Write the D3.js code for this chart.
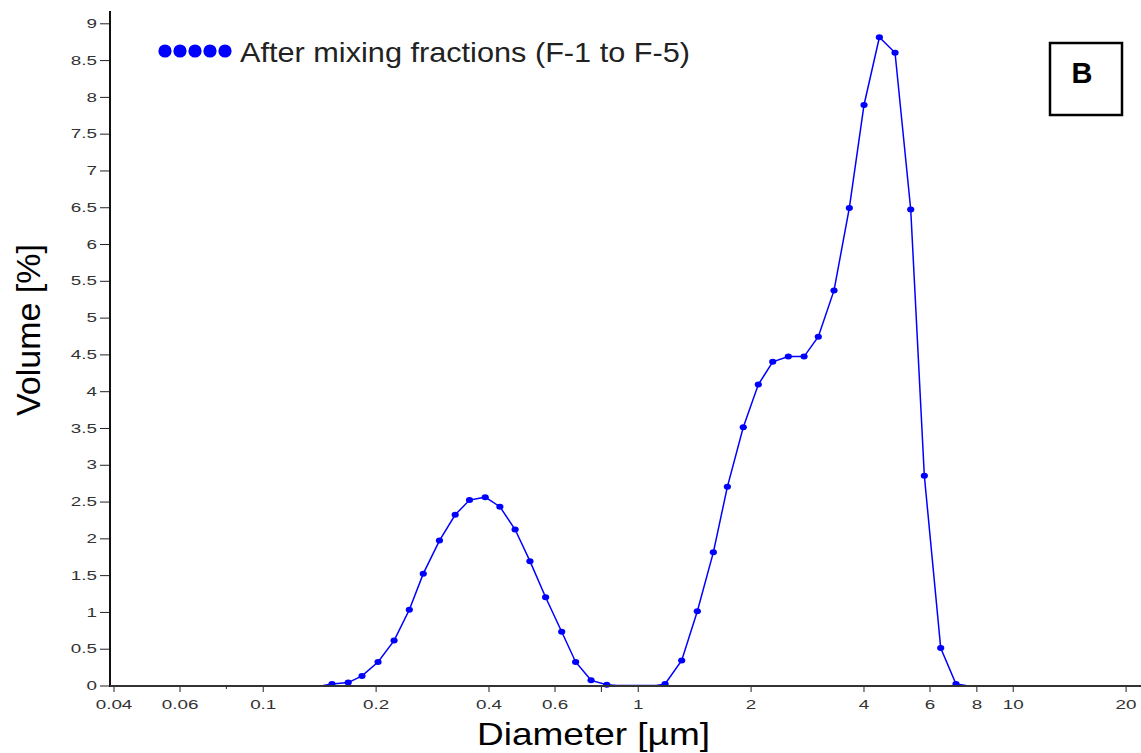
<!DOCTYPE html>
<html>
<head>
<meta charset="utf-8">
<script src="https://cdn.jsdelivr.net/npm/d3@7"></script>
<style>
  body { margin: 0; background: #fff; }
  svg { display: block; font-family: "Liberation Sans", Arial, sans-serif; }
</style>
</head>
<body>
<svg id="chart" width="1141" height="753"></svg>
<script>
"use strict";
// particle size distribution
const diameters = [0.145, 0.153, 0.169, 0.184, 0.203, 0.224, 0.246, 0.268, 0.296, 0.326, 0.356, 0.392, 0.429, 0.471, 0.516, 0.568, 0.627, 0.683, 0.751, 0.827, 0.88,
  1.12, 1.183, 1.31, 1.442, 1.591, 1.734, 1.912, 2.097, 2.291, 2.521, 2.777, 3.031, 3.338, 3.667, 4.013, 4.41, 4.855, 5.346, 5.812, 6.427, 7.059, 7.5];
const volumes = [0, 0.02, 0.04, 0.13, 0.32, 0.61, 1.03, 1.52, 1.97, 2.32, 2.52, 2.56, 2.43, 2.12, 1.69, 1.2, 0.73, 0.32, 0.07, 0.01, 0,
  0, 0.02, 0.34, 1.01, 1.81, 2.70, 3.51, 4.09, 4.40, 4.47, 4.47, 4.74, 5.37, 6.49, 7.89, 8.81, 8.60, 6.47, 2.85, 0.51, 0.02, 0];
const xTicks = [0.04, 0.06, 0.1, 0.2, 0.4, 0.6, 1, 2, 4, 6, 8, 10, 20];
const xMinorTicks = [0.08, 0.8];
const yTicks = d3.range(0, 9.01, 0.5);
const seriesName = "After mixing fractions (F-1 to F-5)";
const panelLabel = "B";

const svg = d3.select("#chart");
const x = d3.scaleLog().domain([0.04, 20]).range([113.5, 1125.6]);
const y = d3.scaleLinear().domain([0, 9]).range([685.5, 23.3]);
const axisX = 110, axisY = 686;
const blue = "#0000ff";

// y axis
const gy = svg.append("g").attr("transform", `translate(${axisX},0)`)
  .call(d3.axisLeft(y).tickValues(yTicks).tickSize(10).tickFormat(d => d));
gy.select(".domain").remove();
gy.selectAll(".tick line").attr("stroke", "#222");
gy.selectAll(".tick text").attr("x", -9).attr("transform", "scale(1.45,1)")
  .attr("font-size", 13).attr("fill", "#333").attr("font-family", "Liberation Sans, Arial");
svg.append("line").attr("x1", axisX).attr("x2", axisX).attr("y1", 11).attr("y2", axisY + 1)
  .attr("stroke", "#111").attr("stroke-width", 2);

// x axis
const gx = svg.append("g").attr("transform", `translate(0,${axisY})`)
  .call(d3.axisBottom(x).tickValues(xTicks).tickSize(6).tickPadding(8).tickFormat(d => d));
gx.select(".domain").remove();
gx.selectAll(".tick line").attr("stroke", "#222");
gx.selectAll(".tick text").attr("transform", "scale(1.45,1)")
  .attr("font-size", 13).attr("fill", "#333").attr("font-family", "Liberation Sans, Arial");
gx.selectAll(".minor").data(xMinorTicks).join("line").attr("class", "minor")
  .attr("x1", d => x(d)).attr("x2", d => x(d)).attr("y1", 0).attr("y2", d => d < 0.1 ? 3 : 6)
  .attr("stroke", "#222");

// series
const pts = diameters.map((d, i) => ({d, v: volumes[i]}));
const line = d3.line().x(p => x(p.d)).y(p => y(p.v));
svg.append("path").datum(pts).attr("d", line)
  .attr("fill", "none").attr("stroke", blue).attr("stroke-width", 1.5);
svg.append("g").selectAll("ellipse").data(pts.filter(p => p.v > 0)).join("ellipse")
  .attr("cx", p => x(p.d)).attr("cy", p => y(p.v)).attr("rx", 3.6).attr("ry", 3)
  .attr("fill", blue);

// x axis line over the zero stretches of the curve
svg.append("line").attr("x1", axisX).attr("x2", 1141).attr("y1", axisY).attr("y2", axisY)
  .attr("stroke", "#333").attr("stroke-width", 2);

// axis titles
svg.append("text").attr("x", 477).attr("y", 745).attr("font-size", 32)
  .attr("textLength", 233).attr("lengthAdjust", "spacingAndGlyphs").text("Diameter [µm]");
svg.append("text").attr("transform", "translate(40,330) rotate(-90)").attr("text-anchor", "middle")
  .attr("font-size", 34).text("Volume [%]");

// legend
svg.append("g").selectAll("circle").data(d3.range(5)).join("circle")
  .attr("cx", i => 165 + i * 15).attr("cy", 51).attr("r", 6.6).attr("fill", blue);
svg.append("text").attr("x", 240).attr("y", 62).attr("font-size", 28).attr("fill", "#222")
  .attr("textLength", 450).attr("lengthAdjust", "spacingAndGlyphs").text(seriesName);

// panel label
svg.append("rect").attr("x", 1050).attr("y", 43).attr("width", 72).attr("height", 72)
  .attr("fill", "none").attr("stroke", "#000").attr("stroke-width", 2.5);
svg.append("text").attr("x", 1082).attr("y", 83).attr("text-anchor", "middle")
  .attr("font-size", 29).attr("font-weight", "bold").text(panelLabel);
</script>
</body>
</html>
